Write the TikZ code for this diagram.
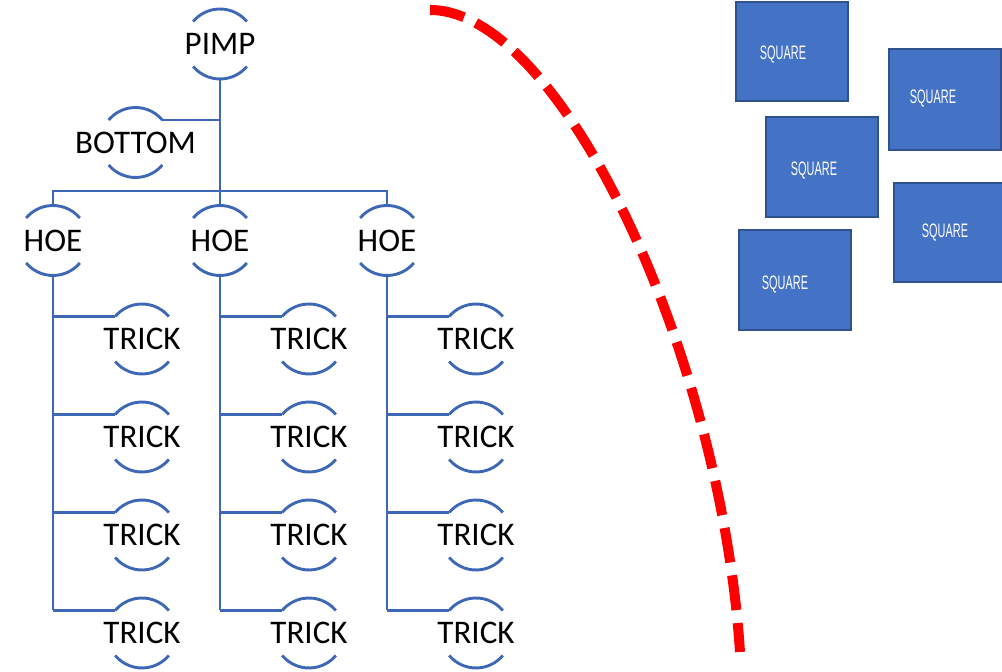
\documentclass[tikz,border=0pt]{standalone}
\usepackage{fontspec}
\setmainfont{Carlito}
\newfontfamily\sqfont[FakeStretch=0.56]{Liberation Sans}
\definecolor{lineblue}{RGB}{62,104,182}
\definecolor{boxfill}{RGB}{68,114,196}
\definecolor{boxedge}{RGB}{47,82,143}
\begin{document}
\begin{tikzpicture}[x=1pt,y=1pt,
  conn/.style={draw=lineblue,line width=2.9pt},
  arcnode/.style={inner sep=0pt,font=\fontsize{33}{40}\selectfont},
  sqbox/.style={draw=boxedge,fill=boxfill,line width=2pt},
  sqtext/.style={text=white,font=\sqfont\fontsize{19.5}{22}\selectfont,inner sep=0pt},
  reddash/.style={draw=red,line width=10pt,dash pattern=on 35pt off 13pt}]
\useasboundingbox (0,0) rectangle (1002,672);
\newcommand\arcsof[1]{%
  \draw[conn] ([shift={(40:35)}]#1.center) arc[start angle=40,end angle=140,radius=35pt];
  \draw[conn] ([shift={(220:35)}]#1.center) arc[start angle=220,end angle=320,radius=35pt];
  \coordinate (#1-tl) at ([shift={(140:35)}]#1.center);
  \coordinate (#1-tr) at ([shift={(40:35)}]#1.center);
  \coordinate (#1-t) at ([shift={(90:35)}]#1.center);
  \coordinate (#1-b) at ([shift={(270:35)}]#1.center);}
% nodes
\node[arcnode] (pimp) at (220,628) {PIMP};
\node[arcnode] (bottom) at (135.5,529.5) {BOTTOM};
\node[arcnode] (hoe1) at (53,431.5) {HOE};
\node[arcnode] (hoe2) at (220,431.5) {HOE};
\node[arcnode] (hoe3) at (387,431.5) {HOE};
\foreach \c/\x in {1/142,2/309,3/476}{
  \foreach \r/\y in {1/333,2/235,3/137,4/39}{
    \node[arcnode] (t\c\r) at (\x,\y) {TRICK};
  }
}
\arcsof{pimp}\arcsof{bottom}
\arcsof{hoe1}\arcsof{hoe2}\arcsof{hoe3}
\foreach \c in {1,2,3}{\foreach \r in {1,2,3,4}{\arcsof{t\c\r}}}
% connectors
\coordinate (bar) at (220,481);
\draw[conn] (pimp-b) -- (bar) -- (hoe2-t);
\draw[conn] (bottom-tr) -- (bottom-tr -| pimp-b);
\draw[conn] (hoe1-t) |- (bar) -| (hoe3-t);
\foreach \c in {1,2,3}{
  \draw[conn] (hoe\c-b) -- (hoe\c-b |- t\c4-tl);
  \foreach \r in {1,2,3,4}{
    \draw[conn] (hoe\c-b |- t\c\r-tl) -- (t\c\r-tl);
  }
}
% red dashed curve
\draw[reddash] (430,662) .. controls (560,662) and (720,322) .. (740,20);
% squares
\draw[sqbox] (736,670) rectangle (848,571);
\node[sqtext] (s1) at (783,617) {SQUARE};
\draw[sqbox] (889,623) rectangle (1001,522);
\node[sqtext] (s2) at (933,573) {SQUARE};
\draw[sqbox] (766,555) rectangle (878,455);
\node[sqtext] (s3) at (814,501) {SQUARE};
\draw[sqbox] (894,489) rectangle (1003,390);
\node[sqtext] (s4) at (945,439) {SQUARE};
\draw[sqbox] (739,442) rectangle (851,342);
\node[sqtext] (s5) at (785,387) {SQUARE};
\end{tikzpicture}
\end{document}
